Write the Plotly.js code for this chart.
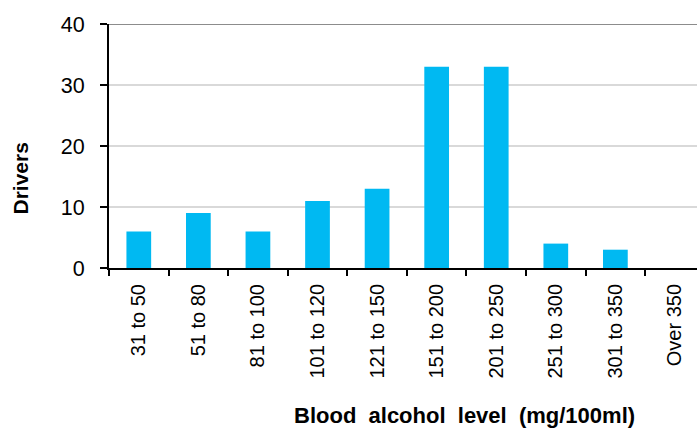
<!DOCTYPE html>
<html>
<head>
<meta charset="utf-8">
<script src="https://cdn.plot.ly/plotly-3.0.1.min.js"></script>
<style>html,body{margin:0;padding:0;background:#fff;}#chart{width:697px;height:429px;}</style>
</head>
<body>
<div id="chart"></div>
<script>
const categories = ["31 to 50","51 to 80","81 to 100","101 to 120","121 to 150","151 to 200","201 to 250","251 to 300","301 to 350","Over 350"];
const drivers = [6, 9, 6, 11, 13, 33, 33, 4, 3, 0];
const yTicks = [0, 10, 20, 30, 40];
const xTitle = "Blood  alcohol  level  (mg/100ml)";
const yTitle = "Drivers";

const font = "Liberation Sans, Arial, sans-serif";

const trace = {
  type: "bar",
  x: categories,
  y: drivers,
  marker: {color: "#00B9F2"},
  hoverinfo: "x+y"
};

const layout = {
  width: 697, height: 429,
  margin: {l: 109, r: 0, t: 24, b: 161},
  paper_bgcolor: "#fff", plot_bgcolor: "#fff",
  bargap: 0.585,
  showlegend: false,
  font: {family: font, size: 20, color: "#000"},
  xaxis: {
    type: "category",
    range: [-0.5, 9.37],
    tickson: "boundaries",
    ticks: "outside", ticklen: 6, tickwidth: 2, tickcolor: "#000",
    showline: true, linecolor: "#000", linewidth: 2,
    tickangle: -90,
    ticklabelstandoff: 6,
    tickfont: {family: font, size: 20, color: "#000"},
    showgrid: false, zeroline: false, fixedrange: true
  },
  yaxis: {
    range: [0, 40],
    tickvals: yTicks,
    ticktext: yTicks.map(String),
    ticks: "outside", ticklen: 7, tickwidth: 2, tickcolor: "#000",
    showline: true, linecolor: "#000", linewidth: 2,
    ticklabelstandoff: 11,
    tickfont: {family: font, size: 21.5, color: "#000"},
    showgrid: true, gridcolor: "#d9d9d9", gridwidth: 1.5,
    zeroline: false, fixedrange: true
  },
  shapes: [{
    type: "line", xref: "paper", yref: "y",
    x0: 0, x1: 1, y0: 40, y1: 40,
    line: {color: "#8c8c8c", width: 2}
  }],
  annotations: [
    {text: "<b>" + xTitle + "</b>", xref: "paper", yref: "paper",
     x: (464.5 - 109) / 588, y: -(415 - 268) / 244, xanchor: "center", yanchor: "middle",
     showarrow: false, font: {family: font, size: 22, color: "#000"}},
    {text: "<b>" + yTitle + "</b>", xref: "paper", yref: "paper",
     x: (20 - 109) / 588, y: (268 - 178.5) / 244, xanchor: "center", yanchor: "middle",
     textangle: -90,
     showarrow: false, font: {family: font, size: 21, color: "#000"}}
  ]
};

Plotly.newPlot("chart", [trace], layout, {displayModeBar: false, staticPlot: true});
</script>
</body>
</html>
